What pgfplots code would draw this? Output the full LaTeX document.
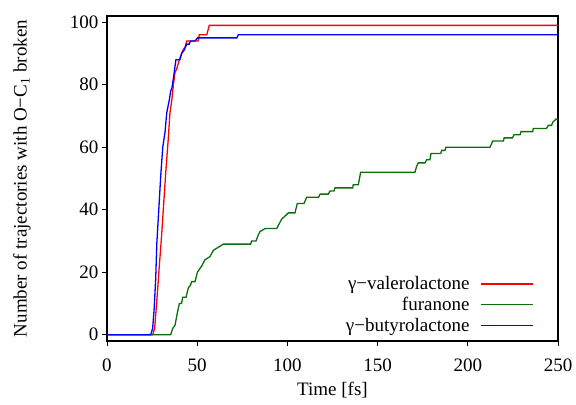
\documentclass[border=0pt]{standalone}
\usepackage{fontspec}
\setmainfont{Liberation Serif}
\usepackage{pgfplots}
\pgfplotsset{compat=1.18}
\definecolor{gred}{RGB}{255,0,0}
\definecolor{ggreen}{RGB}{10,110,10}
\definecolor{gblue}{RGB}{0,0,255}
\newcommand{\bigfont}{\fontsize{19bp}{22bp}\selectfont}
\begin{document}
\begin{tikzpicture}[font=\bigfont]
\useasboundingbox (-107bp,-64bp) rectangle (469bp,341bp);
\begin{axis}[
  scale only axis, width=451bp, height=325bp,
  xmin=0, xmax=250, ymin=-2, ymax=102,
  xtick={0,50,...,250}, ytick={0,20,...,100},
  tick align=outside, xtick pos=left, ytick pos=left,
  major tick length=5bp,
  axis line style={line width=1.5bp},
  tick style={line width=0.8bp, black},
  /pgf/number format/assume math mode=true,
  tick label style={font=\bigfont},
  xticklabel style={yshift=-9bp},
  label style={font=\bigfont},
  xlabel={Time [fs]},
  ylabel={Number of trajectories with O−C\textsubscript{1} broken},
  xlabel style={at={(axis description cs:0.5,-0.1508)}, anchor=center},
  ylabel style={at={(axis description cs:-0.1885,0.5)}, anchor=center},
  legend style={at={(axis description cs:1,0)}, anchor=south east,
    xshift=-21bp, yshift=4bp, draw=none, fill=none, font=\bigfont,
    row sep=2bp, column sep=9bp},
  legend cell align=right, legend plot pos=right,
  legend image code/.code={\draw[#1] (0bp,0bp) -- (52bp,0bp);},
  every axis plot/.append style={line width=1.3bp},
]
\addplot[gred] coordinates {
(0,0) (25.3,0) (26.4,2) (27.5,10) (29.0,22) (30.3,32) (31.2,40) (32.7,53)
(34.0,63) (34.9,71) (35.9,75) (36.8,80) (37.7,84) (38.6,85) (40.1,88)
(42.0,91) (43.2,92) (44.2,94) (50.5,94) (51.2,96) (55.3,96) (56.7,99) (250,99)
};
\addlegendentry{γ−valerolactone}
\addplot[ggreen] coordinates {
(0,0) (35.3,0) (36.4,2) (37.7,3) (39.0,7) (40.1,10) (41.3,10) (42.0,12)
(43.8,12) (45.1,15) (46.4,16) (46.9,17) (48.8,17) (50.1,20) (52.5,22)
(54.3,24) (57.1,25) (58.9,27) (61.7,28) (64.5,29) (79.6,29) (80.2,30)
(82.6,30) (83.9,32) (84.8,33) (87.6,34) (94.1,34) (95.0,35) (96.8,37)
(98.7,38) (100.5,39) (104.2,39) (105.5,42) (109.2,42) (110.7,44) (117.3,44)
(118.1,45) (122.7,45) (123.6,46) (125.8,46) (126.4,47) (136.2,47) (136.5,48)
(139.3,48) (140.6,52) (170.7,52) (171.7,54) (172.6,55) (176.3,55) (177.2,56)
(179.0,56) (179.6,58) (185.0,58) (185.5,59) (187.4,59) (187.9,60) (212.3,60)
(213.8,62) (219.7,62) (220.2,63) (224.8,63) (225.6,64) (229.0,64) (229.5,65)
(236.0,65) (236.3,66) (243.6,66) (244.6,67) (246.4,67) (247.1,68) (248.9,69)
(250,69)
};
\addlegendentry{furanone}
\addplot[gblue] coordinates {
(0,0) (24.2,0) (25.3,2) (26.1,8) (27.0,18) (27.6,29) (28.5,38) (29.8,51)
(30.9,60) (32.2,65) (33.1,71) (34.5,75) (35.3,78) (36.0,79) (36.8,82)
(37.5,85) (38.2,88) (40.4,88) (41.4,90) (42.7,91) (43.5,92) (44.2,93)
(45.6,93) (46.2,94) (48.8,94) (50.1,95) (72.0,95) (72.8,96) (250,96)
};
\addlegendentry{γ−butyrolactone}
\end{axis}
\end{tikzpicture}
\end{document}
